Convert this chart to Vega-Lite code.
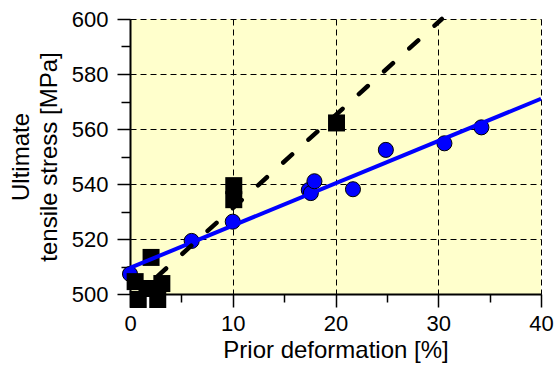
{
  "$schema": "https://vega.github.io/schema/vega-lite/v6.json",
  "width": 411,
  "height": 275,
  "autosize": {"type": "none"},
  "padding": {"left": 130, "top": 19, "right": 14, "bottom": 73},
  "background": "white",
  "config": {
    "view": {"fill": "#FFFFCC", "stroke": null},
    "font": "Liberation Sans",
    "axis": {
      "grid": true,
      "gridColor": "black",
      "gridDash": [6, 4],
      "gridWidth": 1,
      "domainColor": "black",
      "domainWidth": 2,
      "tickColor": "black",
      "tickWidth": 1.5,
      "labelFont": "Liberation Sans",
      "labelFontSize": 22,
      "labelColor": "black",
      "labelOverlap": false,
      "labelFlush": false,
      "titleFont": "Liberation Sans",
      "titleFontSize": 24,
      "titleFontWeight": "normal",
      "titleColor": "black"
    }
  },
  "datasets": {
    "circles": [
      {"x": 0, "y": 507.3},
      {"x": 6.0, "y": 519.3},
      {"x": 10.0, "y": 526.3},
      {"x": 17.4, "y": 537.8},
      {"x": 17.6, "y": 536.7},
      {"x": 17.95, "y": 541.0},
      {"x": 21.7, "y": 538.1},
      {"x": 24.9, "y": 552.4},
      {"x": 30.6, "y": 554.8},
      {"x": 34.2, "y": 560.6}
    ],
    "squares": [
      {"x": 0.5, "y": 504.5},
      {"x": 1.8, "y": 502.0},
      {"x": 3.1, "y": 503.8},
      {"x": 0.8, "y": 498.0},
      {"x": 2.7, "y": 498.0},
      {"x": 2.05, "y": 513.3},
      {"x": 10.1, "y": 539.4},
      {"x": 10.1, "y": 534.3},
      {"x": 20.1, "y": 562.2}
    ],
    "fit": [
      {"x": 0, "y": 509.5},
      {"x": 40, "y": 571.0}
    ],
    "fit2": [
      {"x": 0.77, "y": 500},
      {"x": 30.35, "y": 600}
    ]
  },
  "encoding": {
    "x": {
      "field": "x",
      "type": "quantitative",
      "scale": {"domain": [0, 40], "nice": false, "zero": false},
      "axis": {
        "values": [0, 5, 10, 15, 20, 25, 30, 35, 40],
        "labelExpr": "datum.value % 10 === 0 ? datum.label : ''",
        "tickSize": {"condition": {"test": "datum.value % 10 === 0", "value": 13}, "value": 8},
        "gridOpacity": {"condition": {"test": "datum.value % 10 === 0", "value": 1}, "value": 0},
        "labelPadding": 6,
        "title": "Prior deformation [%]",
        "titlePadding": 4
      }
    },
    "y": {
      "field": "y",
      "type": "quantitative",
      "scale": {"domain": [500, 600], "nice": false, "zero": false},
      "axis": {
        "values": [500, 510, 520, 530, 540, 550, 560, 570, 580, 590, 600],
        "labelExpr": "datum.value % 20 === 0 ? datum.label : ''",
        "tickSize": {"condition": {"test": "datum.value % 20 === 0", "value": 13}, "value": 9},
        "gridOpacity": {"condition": {"test": "datum.value % 20 === 0", "value": 1}, "value": 0},
        "labelPadding": 9,
        "title": ["Ultimate", "tensile stress [MPa]"],
        "titleLineHeight": 28,
        "titlePadding": 10
      }
    }
  },
  "layer": [
    {
      "data": {"name": "circles"},
      "mark": {"type": "point", "shape": "circle", "filled": true, "fill": "#0000FF", "stroke": "black", "strokeWidth": 1, "size": 227, "opacity": 1}
    },
    {
      "data": {"name": "squares"},
      "mark": {"type": "point", "shape": "square", "filled": true, "fill": "black", "size": 289, "opacity": 1}
    },
    {
      "data": {"name": "fit"},
      "mark": {"type": "line", "color": "#0000FF", "strokeWidth": 4}
    },
    {
      "data": {"name": "fit2"},
      "mark": {"type": "line", "color": "black", "strokeWidth": 4.5, "strokeDash": [12, 22], "strokeDashOffset": 8, "strokeCap": "round"}
    }
  ]
}
